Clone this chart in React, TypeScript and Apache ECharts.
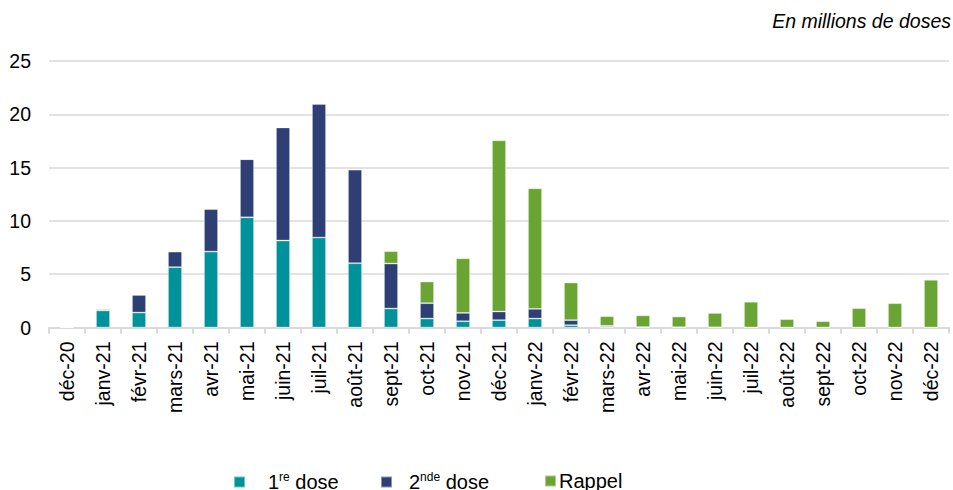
import React, { useEffect, useRef } from "react";
import * as echarts from "echarts";

const categories = [
  "déc-20", "janv-21", "févr-21", "mars-21", "avr-21", "mai-21", "juin-21", "juil-21",
  "août-21", "sept-21", "oct-21", "nov-21", "déc-21", "janv-22", "févr-22", "mars-22",
  "avr-22", "mai-22", "juin-22", "juil-22", "août-22", "sept-22", "oct-22", "nov-22", "déc-22",
];
const firstDose = [0, 1.6, 1.4, 5.66, 7.12, 10.34, 8.16, 8.44, 6.03, 1.78, 0.84, 0.59, 0.69, 0.84, 0.22, 0.05, 0.02, 0.02, 0.01, 0.01, 0, 0, 0, 0, 0];
const secondDose = [0, 0.12, 1.66, 1.46, 4.0, 5.44, 10.6, 12.53, 8.78, 4.22, 1.44, 0.78, 0.81, 0.91, 0.47, 0.11, 0.02, 0.01, 0.01, 0, 0, 0, 0, 0, 0];
const booster = [0, 0, 0, 0, 0, 0, 0, 0, 0, 1.16, 2.03, 5.12, 16.06, 11.31, 3.53, 0.9, 1.1, 1.0, 1.34, 2.4, 0.78, 0.59, 1.81, 2.28, 4.47];
const yTicks = { min: 0, max: 25, interval: 5 };

const FONT = "Arial, 'Liberation Sans', sans-serif";
const C1 = "#00929A";
const C2 = "#2E3F76";
const C3 = "#6AA533";

export default function App() {
  const ref = useRef<HTMLDivElement>(null);
  useEffect(() => {
    if (!ref.current) return;
    const chart = echarts.init(ref.current, null, { renderer: "svg" });
    const rich = {
      a: { fontSize: 20, fontFamily: FONT, color: "#000", lineHeight: 22 },
      sup: { fontSize: 12, fontFamily: FONT, color: "#000", lineHeight: 22, verticalAlign: "top", padding: [0, 0, 10, 0] },
    };
    const mkLegend = (name: string, left: number, padLeft: number) => ({
      data: [name],
      left,
      top: 471,
      orient: "horizontal",
      itemWidth: 11,
      itemHeight: 11,
      icon: "rect",
      padding: 0,
      textStyle: { fontSize: 20, fontFamily: FONT, color: "#000", padding: [0, 0, 0, padLeft], rich },
      formatter: (n: string) => {
        if (n === "1re dose") return "{a|1}{sup|re}{a| dose}";
        if (n === "2nde dose") return "{a|2}{sup|nde}{a| dose}";
        return "{a|Rappel}";
      },
    });
    const barStyle = (c: string) => ({ color: c, borderColor: "rgba(255,255,255,0.45)", borderWidth: 0.8 });
    chart.setOption({
      animation: false,
      backgroundColor: "#fff",
      title: {
        text: "En millions de doses",
        right: 2,
        top: 11,
        padding: 0,
        textStyle: { fontSize: 19.5, fontStyle: "italic", fontWeight: "normal", fontFamily: FONT, color: "#000" },
      },
      legend: [mkLegend("1re dose", 233, 18), mkLegend("2nde dose", 380, 12), mkLegend("Rappel", 544, -2)],
      grid: { left: 49, right: 4, top: 61, bottom: 162.5, containLabel: false },
      xAxis: {
        type: "category",
        data: categories,
        axisLine: { lineStyle: { color: "#d9d9d9", width: 2 } },
        axisTick: { show: true, length: 6, lineStyle: { color: "#d9d9d9", width: 2 } },
        axisLabel: { rotate: 90, fontSize: 19.5, fontFamily: FONT, color: "#000", margin: 14, interval: 0 },
      },
      yAxis: {
        type: "value",
        min: yTicks.min,
        max: yTicks.max,
        interval: yTicks.interval,
        axisLine: { show: false },
        axisTick: { show: false },
        splitLine: { lineStyle: { color: "#d9d9d9", width: 1.5 } },
        axisLabel: { fontSize: 19.5, fontFamily: FONT, color: "#000", margin: 18 },
      },
      series: [
        { name: "1re dose", type: "bar", stack: "s", data: firstDose, barWidth: 14, itemStyle: barStyle(C1) },
        { name: "2nde dose", type: "bar", stack: "s", data: secondDose, barWidth: 14, itemStyle: barStyle(C2) },
        { name: "Rappel", type: "bar", stack: "s", data: booster, barWidth: 14, itemStyle: barStyle(C3) },
      ],
    });
    return () => chart.dispose();
  }, []);
  return <div ref={ref} style={{ width: 953, height: 490, position: "absolute", left: 0, top: 0 }} />;
}
